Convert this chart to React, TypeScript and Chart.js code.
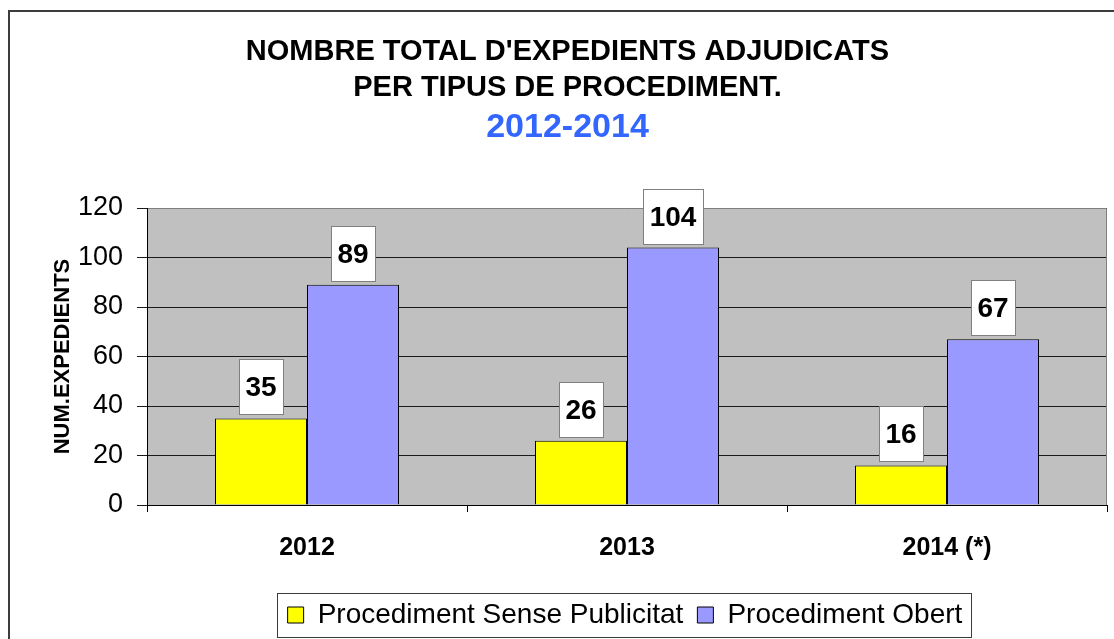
import React, { useEffect, useRef } from "react";
import { Chart, registerables } from "chart.js";

Chart.register(...registerables);

const categories = ["2012", "2013", "2014 (*)"];
const senseValues = [35, 26, 16];
const obertValues = [89, 104, 67];
const seriesNames = ["Procediment Sense Publicitat", "Procediment Obert"];
const titleLines = ["NOMBRE TOTAL D'EXPEDIENTS ADJUDICATS", "PER TIPUS DE PROCEDIMENT."];
const subtitleText = "2012-2014";
const yAxisTitle = "NUM.EXPEDIENTS";
const yMin = 0;
const yMax = 120;
const yStep = 20;

const FONT = '"Liberation Sans", Arial, Helvetica, sans-serif';

const framePlugin = {
  id: "frame",
  beforeDraw(chart: any) {
    const { ctx, chartArea: a, width, height } = chart;
    ctx.save();
    ctx.fillStyle = "#ffffff";
    ctx.fillRect(0, 0, width, height);
    ctx.strokeStyle = "#3c3c3c";
    ctx.lineWidth = 2;
    ctx.strokeRect(9, 11, width + 40, height + 40);
    ctx.fillStyle = "#C0C0C0";
    ctx.fillRect(a.left, a.top, a.right - a.left, a.bottom - a.top);
    ctx.restore();
  },
  beforeDatasetsDraw(chart: any) {
    const { ctx, chartArea: a } = chart;
    ctx.save();
    ctx.strokeStyle = "#808080";
    ctx.lineWidth = 1;
    ctx.beginPath();
    ctx.moveTo(a.left + 1, Math.round(a.top) + 0.5);
    ctx.lineTo(Math.round(a.right) - 0.5, Math.round(a.top) + 0.5);
    ctx.lineTo(Math.round(a.right) - 0.5, a.bottom);
    ctx.stroke();
    ctx.restore();
  },
  afterLayout(chart: any) {
    const lg = chart.legend;
    if (!lg || !lg.lineWidths) return;
    const a = chart.chartArea;
    const p = lg.options.labels.padding;
    const lw = lg.lineWidths[0];
    const x0 = (lg.left + p + lg.right - lw) / 2;
    const itemsCenter = x0 + (lw - p) / 2;
    const target = (a.left + a.right) / 2 - 2;
    const shift = target - itemsCenter;
    lg.left += shift;
    lg.right += shift;
  },
  afterDatasetsDraw(chart: any) {
    const { ctx } = chart;
    ctx.save();
    chart.data.datasets.forEach((ds: any, i: number) => {
      const meta = chart.getDatasetMeta(i);
      meta.data.forEach((el: any, j: number) => {
        const text = String(ds.data[j]);
        ctx.font = `bold 28px ${FONT}`;
        const tw = ctx.measureText(text).width;
        const w = Math.round(tw + 13);
        const h = 55;
        const x = Math.round(el.x - w / 2) + 0.5;
        const yb = Math.round(el.y - 4) + 0.5;
        ctx.fillStyle = "#ffffff";
        ctx.fillRect(x, yb - h, w, h);
        ctx.strokeStyle = "#808080";
        ctx.lineWidth = 1;
        ctx.strokeRect(x, yb - h, w, h);
        ctx.fillStyle = "#000000";
        ctx.textAlign = "center";
        ctx.textBaseline = "middle";
        ctx.fillText(text, el.x, yb - h / 2 + 1);
      });
    });
    ctx.restore();
  },
  afterDraw(chart: any) {
    const lg = chart.legend;
    if (!lg || !lg.legendHitBoxes || !lg.legendHitBoxes.length) return;
    const hb = lg.legendHitBoxes;
    const first = hb[0];
    const last = hb[hb.length - 1];
    const { ctx } = chart;
    ctx.save();
    ctx.strokeStyle = "#3c3c3c";
    ctx.lineWidth = 1;
    const left = Math.round(first.left - 11) + 0.5;
    const right = Math.round(last.left + last.width + 9) + 0.5;
    const top = Math.round(first.top - 8) + 0.5;
    const bottom = Math.round(first.top + first.height + 8) + 0.5;
    ctx.strokeRect(left, top, right - left, bottom - top);
    ctx.restore();
  },
};

export default function App() {
  const canvasRef = useRef<HTMLCanvasElement | null>(null);

  useEffect(() => {
    if (!canvasRef.current) return;
    const chart = new Chart(canvasRef.current, {
      type: "bar",
      data: {
        labels: categories,
        datasets: [
          {
            label: seriesNames[0],
            data: senseValues,
            backgroundColor: "#FFFF00",
            borderColor: "#000000",
            borderWidth: 1,
            categoryPercentage: 0.575,
            barPercentage: 1,
          },
          {
            label: seriesNames[1],
            data: obertValues,
            backgroundColor: "#9999FF",
            borderColor: "#000000",
            borderWidth: 1,
            categoryPercentage: 0.575,
            barPercentage: 1,
          },
        ],
      },
      options: {
        responsive: false,
        animation: false,
        devicePixelRatio: 1,
        events: [],
        layout: { padding: { top: 0, right: 7, bottom: 0, left: 28 } },
        font: { family: FONT },
        color: "#000000",
        plugins: {
          tooltip: { enabled: false },
          title: {
            display: true,
            text: titleLines,
            color: "#000000",
            font: { family: FONT, size: 29, weight: "bold", lineHeight: 36 / 29 },
            padding: { top: 34, bottom: 0 },
          },
          subtitle: {
            display: true,
            text: subtitleText,
            color: "#3366FF",
            font: { family: FONT, size: 34, weight: "bold", lineHeight: 1.2 },
            padding: { top: 1, bottom: 60.2 },
          },
          legend: {
            display: true,
            position: "bottom",
            labels: {
              color: "#000000",
              font: { family: FONT, size: 28 },
              boxWidth: 16,
              boxHeight: 16,
              padding: 14,
            },
          },
        },
        scales: {
          x: {
            grid: {
              display: true,
              drawOnChartArea: false,
              drawTicks: true,
              tickLength: 7,
              color: "#000000",
              offset: true,
            },
            border: { display: true, color: "#000000", width: 1 },
            ticks: {
              color: "#000000",
              font: { family: FONT, size: 25, weight: "bold" },
              padding: 21,
              maxRotation: 0,
              autoSkip: false,
            },
            afterFit: (scale: any) => {
              scale.height = 82;
            },
          },
          y: {
            min: yMin,
            max: yMax,
            ticks: {
              stepSize: yStep,
              color: "#000000",
              font: { family: FONT, size: 27 },
              padding: 14,
            },
            grid: {
              color: "#1a1a1a",
              lineWidth: 1,
              drawTicks: true,
              tickLength: 10,
            },
            border: { display: true, color: "#000000", width: 1 },
            title: {
              display: true,
              text: yAxisTitle,
              color: "#000000",
              font: { family: FONT, size: 22, weight: "bold" },
              padding: { top: 21.8, bottom: 0 },
            },
            afterFit: (scale: any) => {
              scale.width = 119;
            },
          },
        },
      },
      plugins: [framePlugin],
    } as any);
    return () => chart.destroy();
  }, []);

  return (
    <div style={{ position: "fixed", left: 0, top: 0, width: 1114, height: 639, background: "#fff" }}>
      <canvas ref={canvasRef} width={1114} height={639} style={{ display: "block", width: 1114, height: 639 }} />
    </div>
  );
}
